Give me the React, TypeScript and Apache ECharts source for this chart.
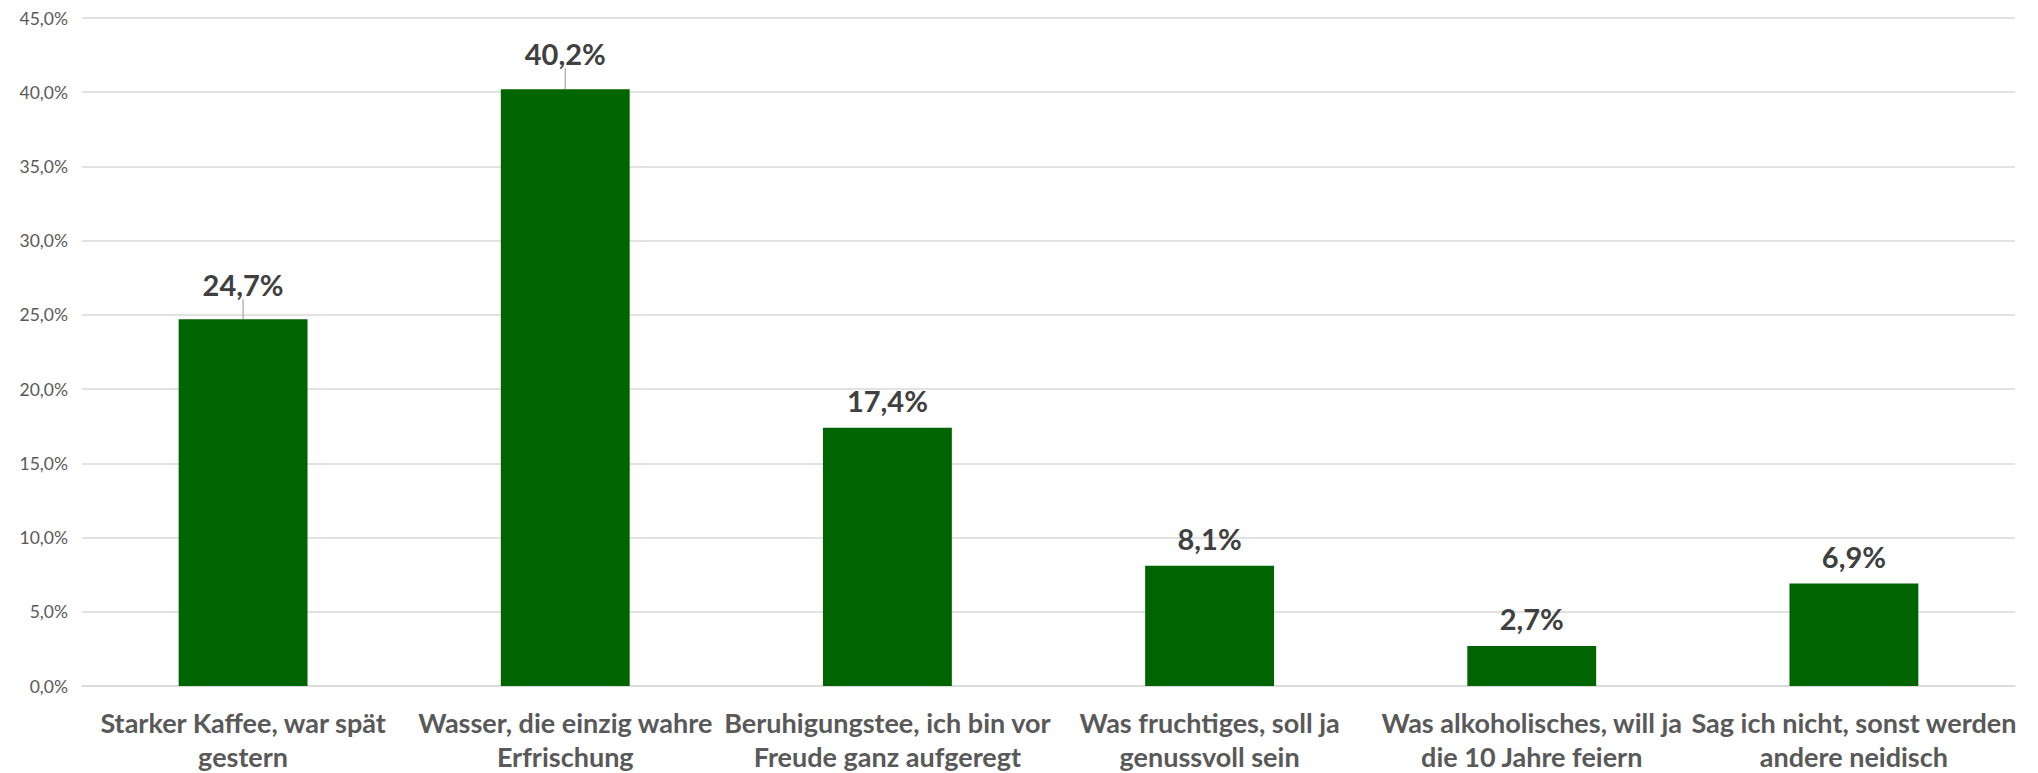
import React, { useEffect, useRef } from "react";
import * as echarts from "echarts";

const categories = [
  "Starker Kaffee, war spät\ngestern",
  "Wasser, die einzig wahre\nErfrischung",
  "Beruhigungstee, ich bin vor\nFreude ganz aufgeregt",
  "Was fruchtiges, soll ja\ngenussvoll sein",
  "Was alkoholisches, will ja\ndie 10 Jahre feiern",
  "Sag ich nicht, sonst werden\nandere neidisch",
];
const values = [24.7, 40.2, 17.4, 8.1, 2.7, 6.9];
const labelLift = [7, 8, 0, 0, 0, 0];

const fmt = (v: number, d: number) => v.toFixed(d).replace(".", ",") + "%";

export default function App() {
  const ref = useRef<HTMLDivElement>(null);
  useEffect(() => {
    document.body.style.margin = "0";
    const chart = echarts.init(ref.current!, null, { renderer: "svg" });
    chart.setOption({
      animation: false,
      backgroundColor: "#ffffff",
      grid: { left: 82, right: 23, top: 18, bottom: 87, containLabel: false },
      xAxis: {
        type: "category",
        data: categories,
        axisLine: { show: true, lineStyle: { color: "#d9d9d9", width: 1.5 } },
        axisTick: { show: false },
        axisLabel: {
          color: "#595959",
          fontFamily: "Lato",
          fontWeight: "bold",
          fontSize: 27,
          lineHeight: 34,
          margin: 19,
          interval: 0,
        },
      },
      yAxis: {
        type: "value",
        min: 0,
        max: 45,
        interval: 5,
        axisLine: { show: false },
        axisTick: { show: false },
        splitLine: { lineStyle: { color: "#d9d9d9", width: 1.5 } },
        axisLabel: {
          color: "#595959",
          fontFamily: "Lato",
          fontSize: 17.5,
          margin: 14,
          formatter: (v: number) => fmt(v, 1),
        },
      },
      series: [
        {
          type: "bar",
          data: values.map((v, i) => ({
            value: v,
            labelLine: { show: labelLift[i] > 0 },
          })),
          barWidth: "40%",
          itemStyle: { color: "#006400" },
          label: {
            show: true,
            position: "top",
            distance: 13,
            color: "#404040",
            fontFamily: "Lato",
            fontWeight: "bold",
            fontSize: 29,
            formatter: (p: any) => fmt(p.value, 1),
          },
          labelLayout: (p: any) => ({ dy: -labelLift[p.dataIndex] }),
          labelLine: { show: false, lineStyle: { color: "#a6a6a6", width: 1.2 } },
        },
      ],
    });
    return () => chart.dispose();
  }, []);
  return (
    <div
      ref={ref}
      style={{ position: "absolute", left: 0, top: 0, width: 2038, height: 773 }}
    />
  );
}
